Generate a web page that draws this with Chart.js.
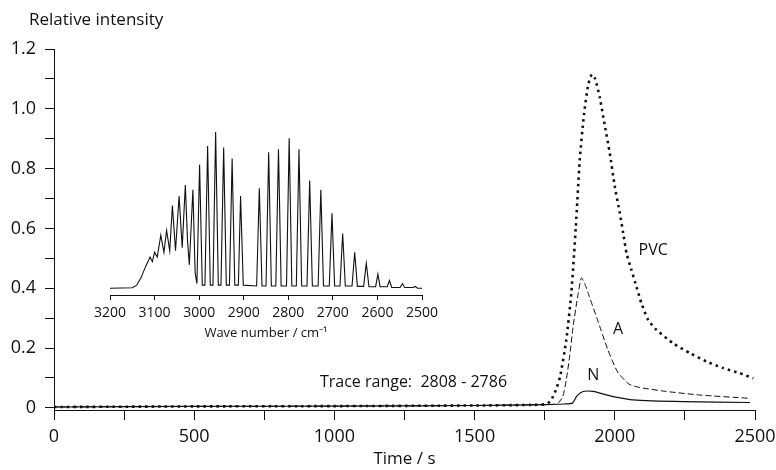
<!DOCTYPE html>
<html>
<head>
<meta charset="utf-8">
<script src="https://cdn.jsdelivr.net/npm/chart.js@4"></script>
<style>
  html, body { margin: 0; padding: 0; background: #fff; }
  #wrap { position: relative; width: 776px; height: 470px; }
  #main { position: absolute; left: 0; top: 0; }
  #inset { position: absolute; left: 90px; top: 120px; }
</style>
</head>
<body>
<div id="wrap">
  <canvas id="main" width="776" height="470"></canvas>
  <canvas id="inset" width="360" height="230"></canvas>
</div>
<script>
// main traces (time in s, relative intensity)
const pvcTime = [0, 500, 1000, 1500, 1700, 1750, 1770, 1790, 1805, 1827, 1845, 1861, 1875, 1890, 1905, 1918, 1930, 1946, 1964, 1982, 2000, 2018, 2030, 2042, 2059, 2077, 2095, 2119, 2149, 2208, 2268, 2327, 2387, 2446, 2494];
const pvcValue = [0.003, 0.005, 0.006, 0.008, 0.01, 0.012, 0.022, 0.06, 0.105, 0.227, 0.385, 0.605, 0.83, 0.98, 1.08, 1.115, 1.10, 1.04, 0.946, 0.852, 0.74, 0.651, 0.584, 0.517, 0.462, 0.406, 0.35, 0.294, 0.261, 0.216, 0.183, 0.155, 0.133, 0.116, 0.099];

const aTime = [0, 500, 1000, 1500, 1700, 1780, 1798, 1815, 1827, 1840, 1851, 1869, 1881, 1895, 1910, 1940, 1975, 2010, 2050, 2090, 2184, 2304, 2482];
const aValue = [0.003, 0.005, 0.006, 0.008, 0.01, 0.012, 0.016, 0.04, 0.094, 0.18, 0.27, 0.38, 0.435, 0.41, 0.37, 0.29, 0.195, 0.12, 0.08, 0.068, 0.055, 0.043, 0.032];

const nTime = [0, 500, 1000, 1500, 1750, 1820, 1849, 1865, 1887, 1923, 1960, 1994, 2065, 2244, 2482];
const nValue = [0.003, 0.005, 0.006, 0.008, 0.011, 0.013, 0.016, 0.04, 0.055, 0.055, 0.046, 0.038, 0.027, 0.021, 0.018];

const yTicks = [0, 0.1, 0.2, 0.3, 0.4, 0.5, 0.6, 0.7, 0.8, 0.9, 1.0, 1.1, 1.2];
const yTickLabels = ['0', '', '0.2', '', '0.4', '', '0.6', '', '0.8', '', '1.0', '', '1.2'];
const xTicks = [0, 250, 500, 750, 1000, 1250, 1500, 1750, 2000, 2250, 2500];
const xTickLabels = ['0', '', '500', '', '1000', '', '1500', '', '2000', '', '2500'];

const traceLabels = ['PVC', 'A', 'N', 'Trace range:  2808 - 2786'];
const traceLabelTime = [2137, 2012, 1923, 1282];
const traceLabelValue = [0.528, 0.261, 0.110, 0.084];
const yAxisTitle = 'Relative intensity';

// inset spectrum (wave number in cm-1, intensity normalised to tallest line)
const waveNumber = [3200, 3150, 3140, 3130, 3120, 3110, 3105, 3100, 3094, 3086, 3079, 3073, 3066, 3060, 3053, 3045, 3038, 3031, 3026, 3022, 3014, 3009, 3005, 2999,
  2993, 2987, 2981, 2975, 2969, 2963, 2957, 2951, 2945, 2939, 2932, 2926, 2920, 2912, 2907, 2901,
  2871, 2865, 2859, 2850, 2844, 2838, 2828, 2822, 2816, 2804, 2798, 2792, 2782, 2776, 2770, 2758, 2752, 2746,
  2733, 2727, 2721, 2708, 2702, 2696, 2684, 2678, 2672, 2657, 2651, 2645, 2631, 2625, 2619, 2604, 2599, 2594,
  2578, 2573, 2568, 2549, 2544, 2539, 2520, 2515, 2510, 2500];
const intensity = [0, 0.003, 0.02, 0.07, 0.14, 0.20, 0.17, 0.23, 0.20, 0.34, 0.23, 0.37, 0.24, 0.53, 0.24, 0.59, 0.26, 0.66, 0.30, 0.15, 0.63, 0.10, 0.03, 0.79,
  0.02, 0.02, 0.91, 0.02, 0.02, 1.00, 0.02, 0.02, 0.90, 0.02, 0.02, 0.83, 0.02, 0.02, 0.59, 0.02,
  0.015, 0.64, 0.015, 0.015, 0.87, 0.015, 0.015, 0.89, 0.015, 0.015, 0.96, 0.015, 0.015, 0.89, 0.015, 0.015, 0.69, 0.015,
  0.015, 0.63, 0.015, 0.015, 0.48, 0.015, 0.015, 0.35, 0.015, 0.015, 0.23, 0.012, 0.012, 0.16, 0.01, 0.01, 0.09, 0.01,
  0.01, 0.05, 0.005, 0.005, 0.03, 0.005, 0.005, 0.012, 0, 0];
const waveTicks = [2500, 2600, 2700, 2800, 2900, 3000, 3100, 3200];
const waveTitle = 'Wave number / cm\u207B\u00B9';

const ink = '#111';
Chart.defaults.font.family = '"Open Sans", sans-serif';
Chart.defaults.color = ink;

const toPoints = (xs, ys) => xs.map((x, i) => ({ x: x, y: ys[i] }));

const textPlugin = {
  id: 'traceText',
  afterDatasetsDraw(chart) {
    const { ctx, chartArea } = chart;
    const x = chart.scales.x, y = chart.scales.y;
    ctx.save();
    ctx.fillStyle = ink;
    ctx.textAlign = 'center';
    ctx.textBaseline = 'middle';
    ctx.font = '16px "Open Sans"';
    traceLabels.forEach((t, i) => {
      ctx.fillText(t, x.getPixelForValue(traceLabelTime[i]), y.getPixelForValue(traceLabelValue[i]));
    });
    ctx.textAlign = 'left';
    ctx.font = '17px "Open Sans"';
    ctx.fillText(yAxisTitle, chartArea.left - 25, chartArea.top - 29);
    ctx.restore();
  }
};

new Chart(document.getElementById('main'), {
  type: 'line',
  data: {
    datasets: [
      { label: 'PVC', data: toPoints(pvcTime, pvcValue), borderColor: ink, borderWidth: 2.6, borderDash: [2.5, 4], pointRadius: 0, tension: 0.2 },
      { label: 'A', data: toPoints(aTime, aValue), borderColor: ink, borderWidth: 1, borderDash: [6, 3], pointRadius: 0, tension: 0.2 },
      { label: 'N', data: toPoints(nTime, nValue), borderColor: ink, borderWidth: 1.2, pointRadius: 0, tension: 0.2 }
    ]
  },
  options: {
    responsive: false,
    animation: false,
    devicePixelRatio: 1,
    layout: { padding: { top: 49, right: 21, left: 0, bottom: 0 } },
    plugins: { legend: { display: false }, tooltip: { enabled: false } },
    scales: {
      x: {
        type: 'linear', min: 0, max: 2500,
        afterFit: s => { s.height = 60; s.paddingLeft = 0; s.paddingRight = 0; },
        afterBuildTicks: s => { s.ticks = xTicks.map(v => ({ value: v })); },
        ticks: { autoSkip: false, maxRotation: 0, padding: 6, font: { size: 18 }, callback: (v, i) => xTickLabels[i] },
        grid: { drawOnChartArea: false, tickLength: 10, color: ink },
        border: { color: ink, width: 1 },
        title: { display: true, text: 'Time / s', font: { size: 17 }, padding: { top: 0, bottom: 1 } }
      },
      y: {
        min: -0.007, max: 1.2,
        afterFit: s => { s.width = 54; },
        afterBuildTicks: s => { s.ticks = yTicks.map(v => ({ value: v })); },
        ticks: { autoSkip: false, padding: 9, font: { size: 18 }, callback: (v, i) => yTickLabels[i] },
        grid: { drawOnChartArea: false, tickLength: 9, color: ink },
        border: { color: ink, width: 1 }
      }
    }
  },
  plugins: [textPlugin]
});

new Chart(document.getElementById('inset'), {
  type: 'line',
  data: {
    datasets: [
      { label: 'spectrum', data: toPoints(waveNumber, intensity), borderColor: ink, borderWidth: 1.1, pointRadius: 0, tension: 0, clip: false }
    ]
  },
  options: {
    responsive: false,
    animation: false,
    devicePixelRatio: 1,
    layout: { padding: { top: 12, right: 28, left: 20, bottom: 0 } },
    plugins: { legend: { display: false }, tooltip: { enabled: false } },
    scales: {
      x: {
        type: 'linear', min: 2500, max: 3200, reverse: true,
        afterFit: s => { s.height = 55; s.paddingLeft = 0; s.paddingRight = 0; },
        afterBuildTicks: s => { s.ticks = waveTicks.map(v => ({ value: v })); },
        ticks: { autoSkip: false, maxRotation: 0, padding: 5, font: { size: 14 }, callback: v => String(v) },
        grid: { drawOnChartArea: false, tickLength: 5, color: ink },
        border: { color: ink, width: 1 },
        title: { display: true, text: waveTitle, font: { size: 13 }, padding: { top: 0, bottom: 9 } }
      },
      y: { display: false, min: -0.043, max: 1.0 }
    }
  }
});
</script>
</body>
</html>
